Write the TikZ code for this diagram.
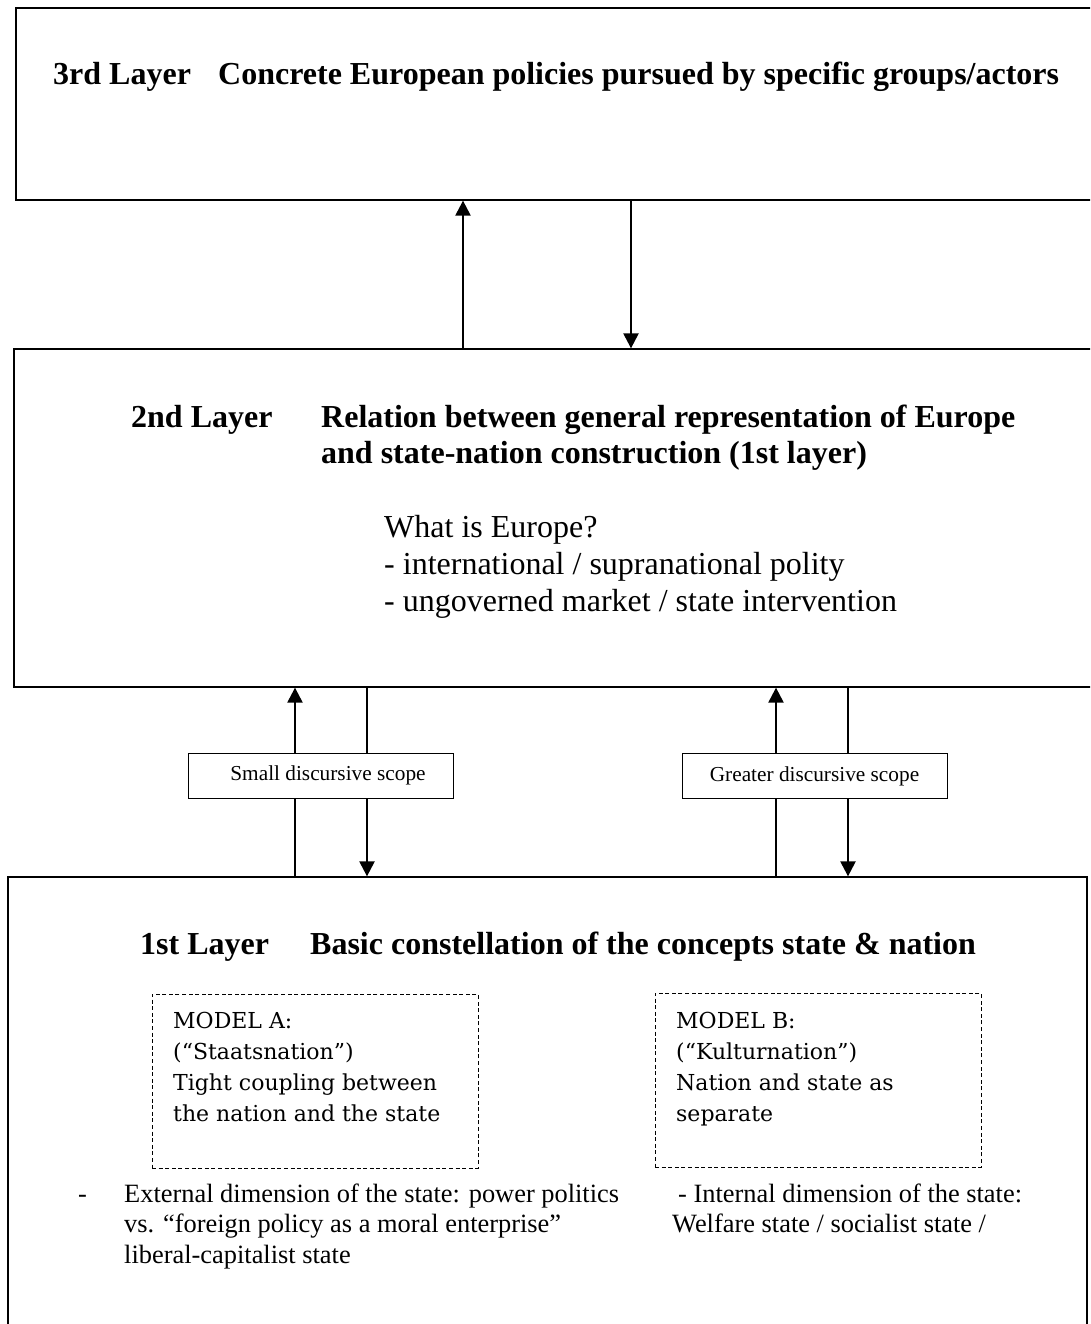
\documentclass[tikz,border=0pt]{standalone}
\usepackage{fontspec}
\setmainfont{Liberation Serif}
\newfontfamily\modelfont{DejaVu Serif}
\usetikzlibrary{arrows.meta}
\begin{document}
\begin{tikzpicture}[x=1pt,y=-1pt,
  layerbox/.style={draw, line width=1.3pt, inner sep=0pt},
  modelbox/.style={draw, dashed, dash pattern=on 4pt off 2.6pt, line width=1pt,
    inner sep=0pt, minimum width=326pt, minimum height=174pt},
  scopebox/.style={draw, fill=white, line width=1pt, minimum width=265pt,
    minimum height=45pt, inner sep=0pt, font=\fontsize{21.3}{24}\selectfont},
  % multi-line texts are placed by the baseline of their last line
  title/.style={anchor=base west, inner sep=0pt, align=left,
    font=\fontsize{32}{36}\selectfont\bfseries},
  body/.style={anchor=base west, inner sep=0pt, align=left,
    font=\fontsize{32}{37}\selectfont},
  note/.style={anchor=base west, inner sep=0pt, align=left,
    font=\fontsize{26.4}{30.8}\selectfont},
  modeltext/.style={anchor=base west, inner sep=0pt, align=left,
    font=\modelfont\fontsize{22}{31}\selectfont},
  arr/.style={line width=2.3pt, -{Triangle[length=15pt,width=15pt]}}]

\useasboundingbox (0,0) rectangle (1090,1324);
\clip (0,0) rectangle (1090,1324);

% the three layers
\node[layerbox, minimum width=1094pt, minimum height=192pt] (L3) at (563,104) {};
\node[layerbox, minimum width=1096pt, minimum height=338pt] (L2) at (562,518) {};
\node[layerbox, minimum width=1079pt, minimum height=463pt] (L1) at (547.5,1108.5) {};

% x positions of the connectors
\coordinate (xup3) at (463,0);
\coordinate (xdn3) at (631,0);
\coordinate (xupA) at (295,0);
\coordinate (xdnA) at (367,0);
\coordinate (xupB) at (776,0);
\coordinate (xdnB) at (848,0);

% connectors between layers
\draw[arr] (L2.north -| xup3) -- (L3.south -| xup3);
\draw[arr] (L3.south -| xdn3) -- (L2.north -| xdn3);
\draw[arr] (L1.north -| xupA) -- (L2.south -| xupA);
\draw[arr] (L2.south -| xdnA) -- (L1.north -| xdnA);
\draw[arr] (L1.north -| xupB) -- (L2.south -| xupB);
\draw[arr] (L2.south -| xdnB) -- (L1.north -| xdnB);

% scope labels on the lower connectors
\node[scopebox] (scopeA) at (321,775.5) {\hspace{14pt}Small discursive scope};
\node[scopebox] (scopeB) at (814.5,776) {Greater discursive scope\hspace{14pt}};

% 3rd layer
\node[title] (t3k) at (53,85) {3rd Layer};
\node[title] (t3) at (218,85) {Concrete European policies pursued by specific groups/actors};

% 2nd layer
\node[title] (t2k) at (131,427) {2nd Layer};
\node[title] (t2) at (321,463) {Relation between general representation of Europe\\and state-nation construction (1st layer)};
\node[body] (q2) at (384,611) {What is Europe?\\- international / supranational polity\\- ungoverned market / state intervention};

% 1st layer
\node[title] (t1k) at (140,954) {1st Layer};
\node[title] (t1) at (310,954) {Basic constellation of the concepts state \& nation};

\node[modelbox] (mA) at (315,1081) {};
\node[modelbox] (mB) at (818,1080) {};
\node[modeltext] (mAt) at (173,1121) {MODEL A:\\(“Staatsnation”)\\Tight coupling between\\the nation and the state};
\node[modeltext] (mBt) at (676,1121) {MODEL B:\\(“Kulturnation”)\\Nation and state as\\separate};

\node[note] (dashA) at (78,1202) {-};
\node[note] (extA) at (124,1263.6) {External dimension of the state: power politics\\vs. “foreign policy as a moral enterprise”\\liberal-capitalist state};
\node[note] (intB) at (678,1202) {- Internal dimension of the state:};
\node[note] (intB2) at (672,1232.8) {Welfare state / socialist state /};
\end{tikzpicture}
\end{document}
